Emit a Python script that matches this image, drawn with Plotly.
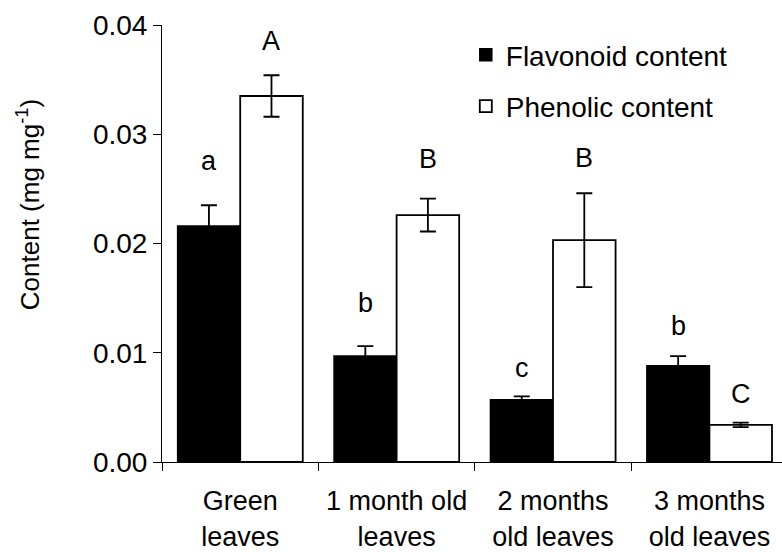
import plotly.graph_objects as go

# Leaf age groups (two-line tick labels)
categories = ["Green<br>leaves", "1 month old<br>leaves", "2 months<br>old leaves", "3 months<br>old leaves"]

# Mean contents (mg mg-1) and standard errors
flavonoid = [0.0216, 0.0097, 0.0057, 0.0088]
flavonoid_err = [0.0019, 0.0009, 0.0003, 0.0009]
phenolic = [0.0335, 0.0226, 0.0203, 0.0034]
phenolic_err = [0.0019, 0.0015, 0.0043, 0.0002]

# Significance letters
flavonoid_letters = ["a", "b", "c", "b"]
phenolic_letters = ["A", "B", "B", "C"]

FONT = "Liberation Sans, Arial, sans-serif"

fig = go.Figure()
fig.add_trace(go.Bar(
    name="Flavonoid content", x=categories, y=flavonoid,
    marker=dict(color="black", line=dict(color="black", width=1.5)),
    error_y=dict(type="data", array=flavonoid_err, color="black", thickness=1.8, width=8),
    legendgroup="f",
))
fig.add_trace(go.Bar(
    name="Phenolic content", x=categories, y=phenolic,
    marker=dict(color="white", line=dict(color="black", width=1.8)),
    error_y=dict(type="data", array=phenolic_err, color="black", thickness=1.8, width=8),
    legendgroup="p",
))

# Letters above each bar (pixel gap above the error-bar cap)
flav_gap = [34, 33, 18, 20]
phen_gap = [24, 30, 25, 19]
for i, cat in enumerate(categories):
    fig.add_annotation(x=i - 0.2, y=flavonoid[i] + flavonoid_err[i], xref="x", yref="y",
                       text=flavonoid_letters[i], showarrow=False, yanchor="bottom",
                       yshift=flav_gap[i] - 7, font=dict(size=27, family=FONT, color="black"))
    fig.add_annotation(x=i + 0.2, y=phenolic[i] + phenolic_err[i], xref="x", yref="y",
                       text=phenolic_letters[i], showarrow=False, yanchor="bottom",
                       yshift=phen_gap[i] - 7, font=dict(size=27, family=FONT, color="black"))

# Y-axis title, positioned in paper coordinates left of the tick labels
fig.add_annotation(x=-(162 - 28) / 620, y=1 - (206 - 25) / 439, xref="paper", yref="paper",
                   xanchor="center", yanchor="middle",
                   text="Content (mg mg<sup>-1</sup>)",
                   showarrow=False, textangle=-90, font=dict(size=26, family=FONT, color="black"))

fig.update_layout(
    width=782, height=552,
    margin=dict(l=162, r=0, t=25, b=88),
    paper_bgcolor="white", plot_bgcolor="white",
    barmode="group", bargap=0.2, bargroupgap=0,
    font=dict(family=FONT, color="black"),
    showlegend=True,
    legend=dict(x=0.49, y=1 - 5 / 439, xanchor="left", yanchor="top", bgcolor="rgba(0,0,0,0)",
                font=dict(size=28, family=FONT, color="black"), traceorder="grouped",
                tracegroupgap=12, itemwidth=30),
)
fig.update_xaxes(
    type="category", range=[-0.5, 3.464], tickson="boundaries",
    showline=True, linecolor="black", linewidth=1,
    ticks="outside", ticklen=8, tickcolor="black", tickwidth=1,
    ticklabelstandoff=15,
    tickfont=dict(size=27, family=FONT, color="black"),
    showgrid=False, zeroline=False,
)
fig.update_yaxes(
    range=[0, 0.04], dtick=0.01, tickformat=".2f",
    showline=True, linecolor="black", linewidth=1,
    ticks="outside", ticklen=8, tickcolor="black", tickwidth=1,
    tickfont=dict(size=28, family=FONT, color="black"),
    showgrid=False, zeroline=False,
)

fig.write_html("out.html")
